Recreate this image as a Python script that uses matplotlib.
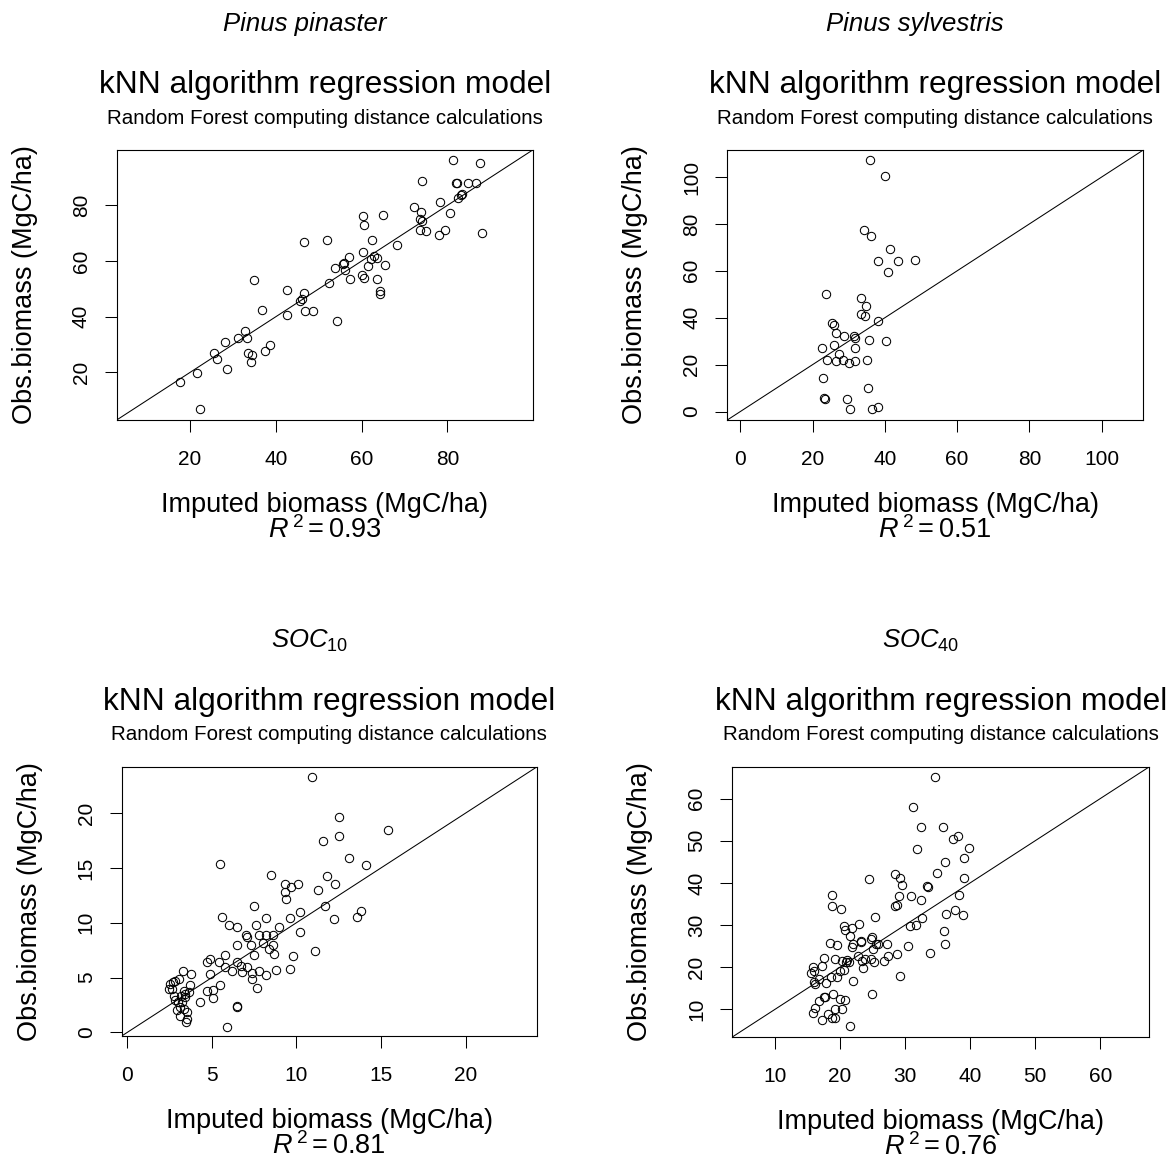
import matplotlib
matplotlib.use("Agg")
import matplotlib.pyplot as plt

plt.rcParams['font.family'] = ['Liberation Sans', 'DejaVu Sans']
plt.rcParams['mathtext.fontset'] = 'custom'
plt.rcParams['mathtext.rm'] = 'Liberation Sans'
plt.rcParams['mathtext.it'] = 'Liberation Sans:italic'

##### DATA #####
species = ['Pinus pinaster', 'Pinus sylvestris', r'$\mathit{SOC_{10}}$', r'$\mathit{SOC_{40}}$']
r2_values = ['0.93', '0.51', '0.81', '0.76']
title = 'kNN algorithm regression model'
subtitle = 'Random Forest computing distance calculations'
xlabel = 'Imputed biomass (MgC/ha)'
ylabel = 'Obs.biomass (MgC/ha)'

# Pinus pinaster
p1_imp = [81.4, 87.6, 74.1, 81.9, 82.2, 84.8, 86.7, 82.5, 83.1, 83.5,
          78.4, 80.6, 72.2, 73.8, 73.6, 74.1, 73.6, 75.0, 78.0, 79.4,
          88.0, 60.4, 60.6, 64.9, 52.0, 46.5, 62.5, 68.3, 60.4, 62.8,
          63.5, 62.1, 57.0, 55.6, 53.9, 56.2, 61.6, 65.5, 57.3, 60.2,
          60.6, 63.7, 64.3, 64.3, 52.3, 34.9, 42.6, 46.6, 46.1, 45.7,
          36.7, 42.6, 46.8, 48.7, 54.2, 32.8, 31.1, 33.2, 28.2, 25.7,
          26.4, 33.4, 34.5, 34.2, 37.4, 38.6, 28.7, 21.7, 17.7, 22.3, 55.8]
p1_obs = [96.2, 95.4, 88.7, 87.9, 88.2, 88.2, 88.2, 82.6, 83.6, 84.0,
          81.2, 77.4, 79.3, 77.5, 75.2, 74.3, 71.3, 70.7, 69.3, 71.3,
          70.0, 76.1, 73.1, 76.5, 67.5, 66.7, 67.5, 65.7, 63.3, 61.8,
          61.2, 60.6, 61.5, 59.0, 57.6, 56.7, 58.1, 58.6, 53.5, 54.9,
          53.8, 53.6, 49.3, 48.3, 52.0, 53.1, 49.6, 48.6, 46.4, 45.5,
          42.3, 40.7, 41.9, 41.9, 38.5, 34.8, 32.5, 32.3, 31.0, 27.1,
          24.8, 26.8, 26.2, 23.7, 27.7, 30.0, 21.1, 19.8, 16.4, 7.0, 59.4]

# Pinus sylvestris
p2_imp = [36.0, 39.9, 34.1, 36.1, 41.4, 38.2, 43.6, 48.4, 40.8, 23.6,
          33.5, 34.9, 33.3, 34.4, 38.2, 25.4, 25.8, 26.4, 28.7, 31.4,
          31.8, 35.6, 40.3, 22.5, 25.9, 31.6, 27.2, 24.0, 26.4, 28.4,
          30.1, 31.7, 35.0, 22.9, 23.1, 23.3, 29.4, 30.3, 35.2, 36.4, 38.0]
p2_obs = [107.2, 100.4, 77.6, 74.8, 69.2, 64.1, 64.1, 64.7, 59.7, 50.2,
          48.5, 45.1, 41.8, 40.6, 38.4, 37.9, 36.7, 33.5, 32.3, 32.2,
          31.2, 30.5, 30.1, 27.2, 28.4, 27.2, 24.5, 22.1, 21.4, 22.1,
          20.6, 21.4, 22.1, 14.3, 5.8, 5.2, 5.4, 1.0, 9.9, 1.0, 2.1]

# SOC 10
p3_imp = [10.95, 12.5, 15.4, 12.5, 11.6, 13.1, 14.1, 5.5, 8.5, 11.8,
          12.3, 9.3, 9.7, 10.1, 9.3, 9.4, 11.3, 7.5, 11.7, 5.6,
          8.2, 9.6, 10.2, 12.2, 13.6, 13.8, 6.0, 6.5, 7.6, 9.0,
          10.2, 7.0, 7.1, 7.8, 8.2, 8.6, 6.5, 7.3, 8.0, 8.6,
          8.4, 8.7, 7.5, 9.8, 11.1, 5.8, 4.9, 4.7, 5.4, 5.8,
          6.2, 6.5, 6.7, 6.8, 7.1, 7.4, 7.8, 8.2, 8.8, 9.6,
          7.4, 7.7, 4.9, 3.3, 3.8, 5.5, 5.1, 4.7, 5.1, 4.3,
          6.5, 6.5, 5.9, 2.56, 2.65, 2.85, 3.05, 2.75, 2.85, 2.95,
          3.15, 3.24, 3.34, 3.44, 3.54, 3.54, 3.48, 3.64, 3.15, 3.01,
          3.40, 2.46, 2.69, 3.74, 3.2, 3.34]
p3_obs = [23.3, 19.6, 18.5, 17.9, 17.5, 15.9, 15.3, 15.4, 14.4, 14.3,
          13.5, 13.5, 13.3, 13.5, 12.8, 12.2, 13.0, 11.5, 11.5, 10.5,
          10.4, 10.4, 11.0, 10.3, 10.5, 11.1, 9.8, 9.6, 9.8, 9.6,
          9.2, 8.9, 8.7, 8.9, 8.9, 8.9, 8.0, 8.0, 8.2, 8.0,
          7.6, 7.2, 7.1, 7.0, 7.4, 7.1, 6.7, 6.4, 6.4, 6.0,
          5.6, 6.4, 6.1, 5.5, 6.0, 5.4, 5.6, 5.2, 5.7, 5.8,
          4.9, 4.1, 5.3, 5.6, 5.3, 4.3, 3.9, 3.8, 3.1, 2.8,
          2.4, 2.3, 0.5, 4.43, 3.97, 4.73, 4.89, 3.36, 2.99, 2.08,
          2.29, 2.75, 3.82, 3.51, 1.83, 1.22, 0.98, 3.66, 1.53, 2.75,
          3.21, 3.97, 4.58, 4.34, 3.36, 2.14]

# SOC 40
p4_imp = [34.6, 31.2, 32.4, 35.9, 37.4, 38.1, 39.8, 31.8, 39.1, 36.2,
          34.9, 39.0, 28.4, 29.2, 29.6, 24.4, 33.4, 33.6, 18.7, 18.8,
          20.1, 29.0, 28.4, 28.8, 30.9, 32.4, 38.3, 37.7, 36.3, 38.9,
          25.4, 32.6, 31.7, 30.8, 36.0, 36.2, 33.8, 30.5, 20.6, 20.8,
          21.9, 22.9, 21.5, 22.0, 23.2, 23.3, 24.8, 25.6, 25.1, 27.2,
          18.5, 19.6, 24.8, 25.2, 26.8, 27.4, 28.7, 29.2, 24.9, 17.5,
          19.2, 20.3, 21.1, 21.4, 22.8, 23.4, 23.9, 20.6, 20.0, 19.5,
          22.0, 23.5, 15.8, 17.2, 15.5, 16.0, 16.2, 16.7, 17.9, 17.7,
          18.9, 20.0, 20.8, 16.7, 16.1, 15.8, 17.2, 18.2, 18.8, 19.3,
          19.2, 20.3, 21.5, 17.5, 18.6, 16.0, 21.9, 21.0, 24.9, 25.8]
p4_obs = [65.2, 58.0, 53.3, 53.3, 50.4, 51.2, 48.4, 48.0, 45.8, 44.9,
          42.4, 41.1, 42.2, 41.2, 39.5, 40.9, 39.3, 39.0, 37.1, 34.6,
          33.9, 36.8, 34.5, 34.7, 36.8, 35.9, 37.1, 33.5, 32.7, 32.4,
          31.9, 31.6, 30.0, 29.7, 28.7, 25.6, 23.4, 25.0, 29.8, 28.8,
          29.2, 30.3, 27.4, 25.4, 26.3, 26.0, 26.8, 25.6, 24.3, 25.6,
          25.8, 25.3, 21.9, 21.2, 21.4, 22.7, 23.1, 17.9, 13.6, 22.3,
          21.9, 21.4, 21.7, 21.3, 22.6, 21.4, 22.0, 19.3, 19.0, 17.6,
          16.7, 19.7, 20.1, 20.3, 18.7, 19.0, 16.0, 17.1, 16.3, 12.9,
          13.7, 12.5, 12.2, 11.9, 10.4, 9.2, 7.4, 9.0, 8.0, 7.9,
          10.0, 10.0, 6.0, 13.0, 17.7, 16.5, 24.9, 21.3, 27.2, 25.6]

imputed = [p1_imp, p2_imp, p3_imp, p4_imp]
observed = [p1_obs, p2_obs, p3_obs, p4_obs]
tick_vals = [[20, 40, 60, 80],
             [0, 20, 40, 60, 80, 100],
             [0, 5, 10, 15, 20],
             [10, 20, 30, 40, 50, 60]]
limits = [(2.9, 99.9), (-3.6, 111.5), (-0.32, 24.2), (3.45, 67.5)]

##### PLOT #####
W, H = 1173, 1162
fig = plt.figure(figsize=(W / 100, H / 100), dpi=100)

# axes boxes in pixels: left, top, right, bottom
boxes = [(116.7, 150, 532.7, 420), (727.3, 150, 1143.3, 420),
         (121.7, 767, 536.7, 1036), (732.3, 767, 1149, 1037)]

for i in range(4):
    l, t, r, b = boxes[i]
    ax = fig.add_axes([l / W, 1 - b / H, (r - l) / W, (b - t) / H])
    ax.plot(imputed[i], observed[i], 'o', mfc='none', mec='black', ms=6, mew=0.75)
    ax.axline((0, 0), slope=1, color='black', lw=0.75)
    ax.set_xlim(limits[i])
    ax.set_ylim(limits[i])
    ax.set_xticks(tick_vals[i])
    ax.set_yticks(tick_vals[i])
    for s in ax.spines.values():
        s.set_linewidth(0.8)
    ax.tick_params(direction='out', length=8.6, width=0.75, labelsize=15)
    ax.tick_params(axis='x', pad=13)
    ax.tick_params(axis='y', pad=10, labelrotation=90)
    plt.setp(ax.get_yticklabels(), va='center')

    ax.annotate(species[i], xy=(0.5, 1), xycoords='axes fraction', xytext=(-20, 126),
                textcoords='offset pixels', ha='center', va='center', fontsize=18.5, style='italic')
    ax.annotate(title, xy=(0.5, 1), xycoords='axes fraction', xytext=(0, 65),
                textcoords='offset pixels', ha='center', va='center', fontsize=22.8)
    ax.annotate(subtitle, xy=(0.5, 1), xycoords='axes fraction', xytext=(0, 32),
                textcoords='offset pixels', ha='center', va='center', fontsize=14.8)
    ax.annotate(xlabel, xy=(0.5, 0), xycoords='axes fraction', xytext=(0, -85),
                textcoords='offset pixels', ha='center', va='center', fontsize=19.5)
    ax.annotate(r'$R^{\,2} = ' + r2_values[i] + '$', xy=(0.5, 0), xycoords='axes fraction',
                xytext=(0, -110), textcoords='offset pixels', ha='center', va='center', fontsize=19.5)
    ax.annotate(ylabel, xy=(0, 0.5), xycoords='axes fraction', xytext=(-92, 0),
                textcoords='offset pixels', ha='center', va='center', fontsize=19.5, rotation=90)

fig.savefig('out.png', dpi=100)
